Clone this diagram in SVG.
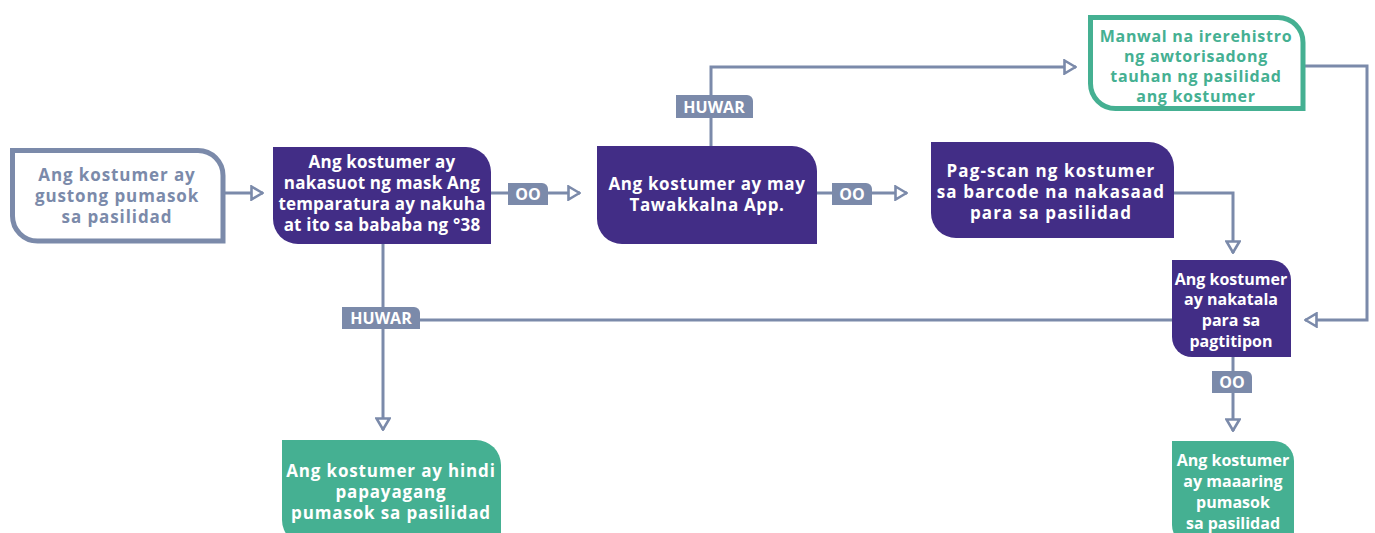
<svg xmlns="http://www.w3.org/2000/svg" width="1375" height="533" viewBox="0 0 1375 533">
<style>
.t{font-family:"Open Sans","Liberation Sans",sans-serif;font-weight:700;font-size:17px;text-anchor:middle}
.w{fill:#ffffff}
.g{fill:#7b8aaa}
.gr{fill:#45b092}
.p{fill:#422d86}
.gf{fill:#45b092}
.c{fill:none;stroke:#7b8aaa;stroke-width:3}
.lb{fill:#7b8aaa}
.lt{font-family:"Open Sans","Liberation Sans",sans-serif;font-weight:700;font-size:16px;fill:#ffffff;text-anchor:middle}
</style>
<defs>
<marker id="ah" markerUnits="userSpaceOnUse" viewBox="0 0 14 16" markerWidth="14" markerHeight="16" refX="13" refY="8" orient="auto">
<polygon points="1.5,1.5 12.5,8 1.5,14.5" fill="#ffffff" stroke="#7b8aaa" stroke-width="2.6"/>
</marker>
</defs>
<rect width="1375" height="533" fill="#ffffff"/>
<g id="connectors">
<path class="c" d="M225,193 H263" marker-end="url(#ah)"/>
<path class="c" d="M491,193 H580" marker-end="url(#ah)"/>
<path class="c" d="M817,193 H907" marker-end="url(#ah)"/>
<path class="c" d="M711,146 V67 H1076" marker-end="url(#ah)"/>
<path class="c" d="M1305,66 H1367 V320 H1305" marker-end="url(#ah)"/>
<path class="c" d="M1174,193 H1233 V253" marker-end="url(#ah)"/>
<path class="c" d="M383,244 V430" marker-end="url(#ah)"/>
<path class="c" d="M1172,320 H383"/>
<path class="c" d="M1233,357 V431" marker-end="url(#ah)"/>
<g id="label-oo1"><path class="lb" d="M508,183 H542 A6 6 0 0 1 548,189 V205 H508 Z"/><text class="lt" x="528" y="200">OO</text></g>
<g id="label-oo2"><path class="lb" d="M832,183 H866 A6 6 0 0 1 872,189 V205 H832 Z"/><text class="lt" x="852" y="200">OO</text></g>
<g id="label-huwar1"><path class="lb" d="M676,95 H747 A6 6 0 0 1 753,101 V118 H676 Z"/><text class="lt" x="714" y="112.5">HUWAR</text></g>
<g id="label-huwar2"><path class="lb" d="M342,307 H414 A6 6 0 0 1 420,313 V329 H342 Z"/><text class="lt" x="381" y="324">HUWAR</text></g>
<g id="label-oo3"><path class="lb" d="M1212,371 H1246 A6 6 0 0 1 1252,377 V393 H1212 Z"/><text class="lt" x="1232" y="388">OO</text></g>
</g>
<g id="n1">
<path d="M12.5,150.5 H198 A25 25 0 0 1 223,175.5 V241 H37.5 A25 25 0 0 1 12.5,216 Z" fill="#ffffff" stroke="#7b8aaa" stroke-width="5"/>
<text class="t g" x="117" style="letter-spacing:0.9px"><tspan x="117" y="181">Ang kostumer ay</tspan><tspan x="117" y="202">gustong pumasok</tspan><tspan x="117" y="223">sa pasilidad</tspan></text>
</g>
<g id="n2">
<path class="p" d="M273,147 H466 A25 25 0 0 1 491,172 V244 H298 A25 25 0 0 1 273,219 Z"/>
<text class="t w" x="382" style="letter-spacing:0.2px"><tspan x="382" y="168">Ang kostumer ay</tspan><tspan x="382" y="189">nakasuot ng mask Ang</tspan><tspan x="382" y="210">temparatura ay nakuha</tspan><tspan x="382" y="231">at ito sa bababa ng °38</tspan></text>
</g>
<g id="n3">
<path class="p" d="M597,146 H792 A25 25 0 0 1 817,171 V244 H622 A25 25 0 0 1 597,219 Z"/>
<text class="t w" x="707" style="letter-spacing:0.65px"><tspan x="707" y="190">Ang kostumer ay may</tspan><tspan x="707" y="211">Tawakkalna App.</tspan></text>
</g>
<g id="n4">
<path class="p" d="M931,142 H1149 A25 25 0 0 1 1174,167 V238 H956 A25 25 0 0 1 931,213 Z"/>
<text class="t w" x="1051" style="letter-spacing:1.1px"><tspan x="1051" y="177">Pag-scan ng kostumer</tspan><tspan x="1051" y="198">sa barcode na nakasaad</tspan><tspan x="1051" y="219">para sa pasilidad</tspan></text>
</g>
<g id="n5">
<path d="M1090.5,17.5 H1278 A25 25 0 0 1 1303,42.5 V108.5 H1115.5 A25 25 0 0 1 1090.5,83.5 Z" fill="#ffffff" stroke="#45b092" stroke-width="5"/>
<text class="t gr" x="1196" style="font-size:16px;letter-spacing:0.7px"><tspan x="1196" y="42">Manwal na irerehistro</tspan><tspan x="1196" y="62">ng awtorisadong</tspan><tspan x="1196" y="82">tauhan ng pasilidad</tspan><tspan x="1196" y="102">ang kostumer</tspan></text>
</g>
<g id="n6">
<path class="p" d="M1172,260 H1271 A20 20 0 0 1 1291,280 V357 H1192 A20 20 0 0 1 1172,337 Z"/>
<text class="t w" x="1231" style="font-size:16px"><tspan x="1231" y="285">Ang kostumer</tspan><tspan x="1231" y="305">ay nakatala</tspan><tspan x="1231" y="326">para sa</tspan><tspan x="1231" y="347">pagtitipon</tspan></text>
</g>
<g id="n7">
<path class="gf" d="M282,440 H476 A25 25 0 0 1 501,465 V545 H307 A25 25 0 0 1 282,520 Z"/>
<text class="t w" x="391" style="letter-spacing:0.85px"><tspan x="391" y="477">Ang kostumer ay hindi</tspan><tspan x="391" y="498">papayagang</tspan><tspan x="391" y="519">pumasok sa pasilidad</tspan></text>
</g>
<g id="n8">
<path class="gf" d="M1172,441 H1274 A20 20 0 0 1 1294,461 V545 H1192 A20 20 0 0 1 1172,525 Z"/>
<text class="t w" x="1233" style="font-size:16px"><tspan x="1233" y="466">Ang kostumer</tspan><tspan x="1233" y="487">ay maaaring</tspan><tspan x="1233" y="508">pumasok</tspan><tspan x="1233" y="529">sa pasilidad</tspan></text>
</g>
</svg>
